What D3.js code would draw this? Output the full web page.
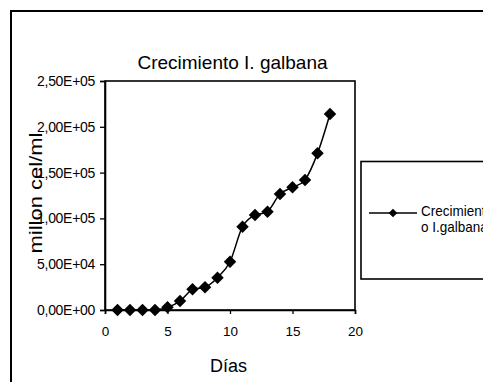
<!DOCTYPE html>
<html>
<head>
<meta charset="utf-8">
<script src="https://cdn.jsdelivr.net/npm/d3@7"></script>
<style>
  html, body { margin: 0; padding: 0; background: #fff; overflow: hidden; }
  svg { display: block; font-family: "Liberation Sans", Arial, sans-serif; }
</style>
</head>
<body>
<svg id="chart" width="483" height="382"></svg>
<script>
// ---- data ----
const days = [1, 2, 3, 4, 5, 6, 7, 8, 9, 10, 11, 12, 13, 14, 15, 16, 17, 18];
const cells = [0, 0, 0, 0, 3000, 9800, 22600, 24800, 35300, 52700, 91000, 103700, 107300, 126600, 134000, 142000, 171000, 214000];
const xTicks = [0, 5, 10, 15, 20];
const yTicks = [0, 50000, 100000, 150000, 200000, 250000];
const yTickLabels = ["0,00E+00", "5,00E+04", "1,00E+05", "1,50E+05", "2,00E+05", "2,50E+05"];
const title = "Crecimiento I. galbana";
const xTitle = "Días";
const yTitle = "millon cel/ml";
const legendLines = ["Crecimient", "o I.galbana"];

const svg = d3.select("#chart");

// outer chart border
svg.append("rect").attr("x", 11).attr("y", 11).attr("width", 520).attr("height", 420)
  .attr("fill", "none").attr("stroke", "#000").attr("stroke-width", 2);

const L = 105, R = 355, T = 81, B = 310;
const x = d3.scaleLinear().domain([0, 20]).range([L, R]);
const y = d3.scaleLinear().domain([0, 250000]).range([B, T]);

// plot area border
svg.append("rect").attr("x", L).attr("y", T).attr("width", R - L).attr("height", B - T)
  .attr("fill", "none").attr("stroke", "#000").attr("stroke-width", 1.6);

// y axis
const yAxis = d3.axisLeft(y).tickValues(yTicks).tickSize(5).tickPadding(5)
  .tickFormat((d, i) => yTickLabels[i]);
const gy = svg.append("g").attr("transform", `translate(${L},0)`).call(yAxis);
gy.select(".domain").attr("stroke-width", 1.6);
gy.selectAll(".tick line").attr("stroke-width", 1.3);
gy.selectAll("text").attr("font-size", 14).attr("font-family", "Liberation Sans, Arial, sans-serif")
  .attr("fill", "#000").attr("letter-spacing", -0.3);

// x axis
const xAxis = d3.axisBottom(x).tickValues(xTicks).tickSize(4).tickPadding(12);
const gx = svg.append("g").attr("transform", `translate(0,${B})`).call(xAxis);
gx.select(".domain").attr("stroke-width", 1.6);
gx.selectAll(".tick line").attr("stroke-width", 1.3);
gx.selectAll("text").attr("font-size", 13.5).attr("font-family", "Liberation Sans, Arial, sans-serif")
  .attr("fill", "#000");

// title
svg.append("text").attr("x", 232.5).attr("y", 69).attr("text-anchor", "middle")
  .attr("font-size", 19).attr("fill", "#000").text(title);

// x title
svg.append("text").attr("x", 228.5).attr("y", 372).attr("text-anchor", "middle")
  .attr("font-size", 18).attr("fill", "#000").text(xTitle);

// y title
svg.append("text").attr("transform", "translate(41.5,193) rotate(-90)")
  .attr("text-anchor", "middle").attr("font-size", 19).attr("fill", "#000")
  .attr("textLength", 121).attr("lengthAdjust", "spacingAndGlyphs").text(yTitle);

// series line
const pts = days.map((d, i) => [d, cells[i]]);
const line = d3.line().x(d => x(d[0])).y(d => y(d[1])).curve(d3.curveCatmullRom.alpha(0));
svg.append("path").datum(pts).attr("d", line).attr("fill", "none")
  .attr("stroke", "#000").attr("stroke-width", 1.5);

// markers
const diamond = d3.symbol().type(d3.symbolSquare).size(78);
svg.selectAll(".mk").data(pts).enter().append("path")
  .attr("d", diamond)
  .attr("transform", d => `translate(${x(d[0])},${y(d[1])}) rotate(45)`)
  .attr("fill", "#000");

// legend
svg.append("rect").attr("x", 361).attr("y", 161.5).attr("width", 200).attr("height", 117.5)
  .attr("fill", "#fff").attr("stroke", "#000").attr("stroke-width", 1.6);
svg.append("line").attr("x1", 369).attr("x2", 417).attr("y1", 213).attr("y2", 213)
  .attr("stroke", "#000").attr("stroke-width", 1.5);
svg.append("path").attr("d", d3.symbol().type(d3.symbolSquare).size(38)())
  .attr("transform", "translate(393,213) rotate(45)").attr("fill", "#000");
const lg = svg.append("g").attr("transform", "translate(421,0) scale(0.9,1)");
lg.selectAll("text").data(legendLines).enter().append("text")
  .attr("x", 0).attr("y", (d, i) => 216 + i * 16.5)
  .attr("font-size", 15).attr("fill", "#000").text(d => d);
</script>
</body>
</html>
